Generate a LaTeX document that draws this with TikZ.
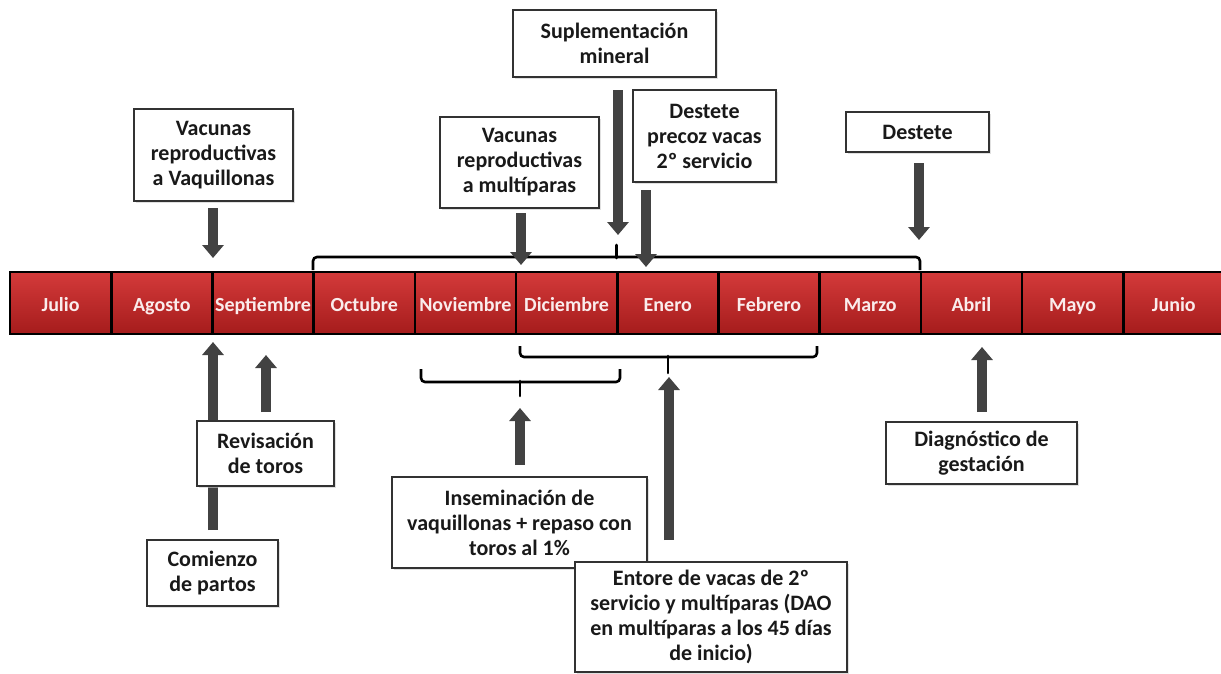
\documentclass[tikz,border=0pt]{standalone}
\usepackage{fontspec}
\setmainfont{Carlito}
\usetikzlibrary{arrows.meta,shadows}
\definecolor{redtop}{RGB}{212,58,58}
\definecolor{redbot}{RGB}{165,28,28}
\definecolor{monthtxt}{RGB}{250,236,236}
\definecolor{arrc}{RGB}{66,66,66}
\definecolor{boxline}{RGB}{50,50,50}
\definecolor{textc}{RGB}{25,25,25}
\begin{document}
\begin{tikzpicture}[x=1pt,y=-1pt,
  month/.style={draw=black, line width=2.6pt, top color=redtop, bottom color=redbot,
    minimum width=101.2pt, minimum height=62pt, inner sep=0pt, text=monthtxt,
    text height=17pt, text depth=1pt,
    font=\bfseries\fontsize{20}{24}\selectfont},
  note/.style={draw=boxline, line width=1.2pt, fill=white, align=center,
    font=\bfseries\fontsize{22}{25}\selectfont, text=textc, inner sep=0pt,
    drop shadow={shadow xshift=1.5pt, shadow yshift=-1.5pt, fill=gray!40, opacity=0.6}},
  blk/.style={line width=10pt, draw=arrc, -{Triangle[width=21pt,length=13pt]}},
  bracepath/.style={line width=2.6pt, draw=black, rounded corners=4pt}
]
\useasboundingbox (0,0) rectangle (1221,673);
\fill[white] (0,0) rectangle (1221,673);

% month bar
\foreach \m [count=\i from 0] in {Julio,Agosto,Septiembre,Octubre,Noviembre,Diciembre,Enero,Febrero,Marzo,Abril,Mayo,Junio}
  \node[month] (m\i) at ({10+101.2*(\i+0.5)},303) {\m};

% braces
\coordinate (tb) at (616.5,245);
\draw[bracepath] (313,270) -- (313,257) -- (920,257) -- (920,270);
\draw[line width=2.6pt, line cap=round] (616.5,258) -- (tb);
\coordinate (bb1) at (668,373);
\draw[bracepath] (520,346) -- (520,357) -- (817,357) -- (817,346);
\draw[line width=2.6pt, line cap=round] (668,356) -- (bb1);
\coordinate (bb2) at (520,396);
\draw[bracepath] (421,369) -- (421,382) -- (620,382) -- (620,369);
\draw[line width=2.6pt, line cap=round] (520,381) -- (bb2);

% arrows (under the boxes)
\coordinate (a1s) at (213,208); \coordinate (a1e) at (213,258);
\coordinate (a2s) at (521,213); \coordinate (a2e) at (521,265);
\coordinate (a3s) at (618,90);  \coordinate (a3e) at (618,235);
\coordinate (a4s) at (646,190); \coordinate (a4e) at (646,267);
\coordinate (a5s) at (919,163); \coordinate (a5e) at (919,240);
\coordinate (b1s) at (213,530); \coordinate (b1e) at (213,342);
\coordinate (b2s) at (266,412); \coordinate (b2e) at (266,355);
\coordinate (b3s) at (520,465); \coordinate (b3e) at (520,408);
\coordinate (b4s) at (669,540); \coordinate (b4e) at (669,377);
\coordinate (b5s) at (982,412); \coordinate (b5e) at (982,347);
\foreach \s/\e in {a1s/a1e,a2s/a2e,a3s/a3e,a4s/a4e,a5s/a5e,b1s/b1e,b2s/b2e,b3s/b3e,b4s/b4e,b5s/b5e}
  \draw[blk] (\s) -- (\e);

% boxes
\node[note, minimum width=159pt, minimum height=92pt] (vaq) at (213.5,155) {Vacunas\\reproductivas\\a Vaquillonas};
\node[note, minimum width=203pt, minimum height=67pt] (sup) at (614.5,43.5) {Suplementación\\mineral};
\node[note, minimum width=159pt, minimum height=91pt] (mul) at (519.5,162.5) {Vacunas\\reproductivas\\a multíparas};
\node[note, minimum width=143pt, minimum height=92pt] (pre) at (704.5,136) {Destete\\precoz vacas\\2º servicio};
\node[note, minimum width=143pt, minimum height=40pt] (des) at (917.5,132) {Destete};
\node[note, minimum width=191pt, minimum height=62pt] (dia) at (981.5,453) {Diagnóstico de\\gestación};
\node[note, minimum width=137pt, minimum height=65pt] (rev) at (265.5,453.5) {Revisación\\de toros};
\node[note, minimum width=131pt, minimum height=66pt] (com) at (212.5,573) {Comienzo\\de partos};
\node[note, minimum width=255pt, minimum height=91pt] (ins) at (519.5,522.5) {Inseminación de\\vaquillonas + repaso con\\toros al 1\%};
\node[note, minimum width=272pt, minimum height=110pt] (ent) at (711,617) {Entore de vacas de 2º\\servicio y multíparas (DAO\\en multíparas a los 45 días\\de inicio)};
\end{tikzpicture}
\end{document}
